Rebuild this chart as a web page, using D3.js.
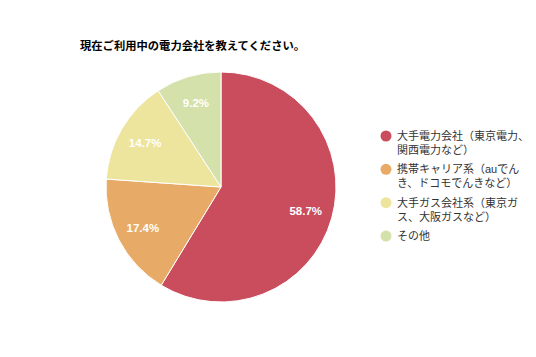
<!DOCTYPE html>
<html><head><meta charset="utf-8">
<script src="https://cdn.jsdelivr.net/npm/d3@7"></script>
<style>
html,body{margin:0;padding:0;background:#fff;}
text{font-family:"Liberation Sans","Noto Sans CJK JP",Arial,sans-serif;}
</style></head>
<body><svg id="c" width="536" height="357"></svg>
<script>
const title = "現在ご利用中の電力会社を教えてください。";
const categories = [
  ["大手電力会社（東京電力、", "関西電力など）"],
  ["携帯キャリア系（auでん", "き、ドコモでんきなど）"],
  ["大手ガス会社系（東京ガ", "ス、大阪ガスなど）"],
  ["その他"]
];
const values = [58.7, 17.4, 14.7, 9.2];
const colors = ["#c94d5d", "#e8ab67", "#ede59d", "#d4e1ab"];

const svg = d3.select("#c");
svg.append("rect").attr("width",536).attr("height",357).attr("fill","#fff");

svg.append("text").attr("x",80).attr("y",50)
  .attr("font-size",11.3).attr("font-weight","bold").attr("fill","#000")
  .attr("font-family","'Noto Sans CJK JP',sans-serif")
  .text(title);

const cx = 221, cy = 187, R = 115;
const pie = d3.pie().sort(null).value(d=>d)(values);
const arc = d3.arc().innerRadius(0).outerRadius(R);
const labelArc = d3.arc().innerRadius(88).outerRadius(88);
const g = svg.append("g").attr("transform",`translate(${cx},${cy})`);
g.selectAll("path").data(pie).join("path")
  .attr("d",arc).attr("fill",(d,i)=>colors[i])
  .attr("stroke","#fff").attr("stroke-width",1);
g.selectAll("text.lbl").data(pie).join("text").attr("class","lbl")
  .attr("transform",d=>`translate(${labelArc.centroid(d)})`)
  .attr("text-anchor","middle").attr("dy","0.36em")
  .attr("font-size",11.5).attr("font-weight","bold").attr("fill","#fff")
  .text(d=>d.value.toFixed(1)+"%");

const legendY = d3.scalePoint().domain(d3.range(categories.length)).range([136,236]);
const lg = svg.append("g");
categories.forEach((lines,i)=>{
  const y = legendY(i);
  lg.append("circle").attr("cx",386).attr("cy",y).attr("r",5.5).attr("fill",colors[i]);
  const t = lg.append("text").attr("x",397).attr("y",y).attr("dy","0.36em")
    .attr("font-size",11).attr("fill","#333")
    .attr("font-family","'Noto Sans CJK JP',sans-serif");
  lines.forEach((s,j)=>{
    t.append("tspan").attr("x",397).attr("dy", j===0?"0.36em":"14px").text(s);
  });
});
</script></body></html>
